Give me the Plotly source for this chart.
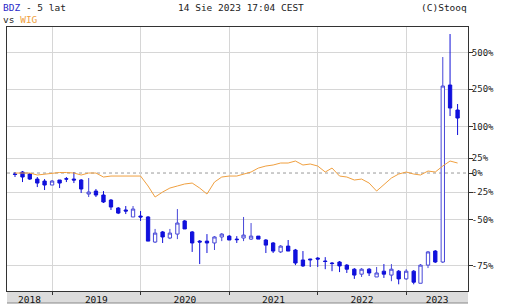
import plotly.graph_objects as go
import pandas as pd

# ---- data (values relative to start: 1.0 = 0%) ----
months = pd.date_range("2018-08-01", periods=61, freq="MS")

bdz_open = [0.985, 1.015, 0.985, 0.914, 0.887, 0.836, 0.901, 0.918, 0.914, 0.901, 0.731, 0.764,
            0.720, 0.668, 0.593, 0.576, 0.519, 0.526, 0.519, 0.357, 0.415, 0.379, 0.402, 0.489,
            0.415, 0.362, 0.362, 0.352, 0.385, 0.390, 0.373, 0.379, 0.373, 0.390, 0.368, 0.352,
            0.308, 0.336, 0.317, 0.273, 0.277, 0.281, 0.269, 0.261, 0.265, 0.253, 0.238, 0.221,
            0.238, 0.212, 0.231, 0.218, 0.231, 0.206, 0.231, 0.193, 0.253, 0.312, 0.265, 3.719,
            2.561]
bdz_high = [1.015, 1.030, 1.000, 0.942, 0.914, 0.901, 0.901, 0.942, 1.015, 0.914, 0.928, 0.788,
            0.764, 0.678, 0.602, 0.611, 0.611, 0.567, 0.526, 0.434, 0.421, 0.434, 0.584, 0.496,
            0.421, 0.368, 0.402, 0.390, 0.408, 0.396, 0.390, 0.519, 0.474, 0.390, 0.373, 0.357,
            0.341, 0.368, 0.322, 0.312, 0.278, 0.285, 0.285, 0.265, 0.269, 0.257, 0.242, 0.242,
            0.242, 0.246, 0.257, 0.257, 0.235, 0.238, 0.235, 0.257, 0.312, 0.317, 5.648, 7.961,
            2.801]
bdz_low = [0.942, 0.874, 0.901, 0.811, 0.776, 0.836, 0.799, 0.874, 0.861, 0.742, 0.699, 0.699,
           0.639, 0.576, 0.542, 0.542, 0.519, 0.489, 0.362, 0.352, 0.352, 0.373, 0.373, 0.434,
           0.308, 0.257, 0.303, 0.317, 0.362, 0.368, 0.352, 0.362, 0.368, 0.373, 0.303, 0.303,
           0.303, 0.312, 0.253, 0.246, 0.246, 0.246, 0.238, 0.231, 0.228, 0.225, 0.206, 0.212,
           0.215, 0.212, 0.209, 0.199, 0.190, 0.203, 0.190, 0.193, 0.242, 0.261, 0.261, 2.341,
           1.763]
bdz_close = [0.980, 0.942, 0.914, 0.861, 0.836, 0.887, 0.861, 0.914, 0.901, 0.788, 0.753, 0.720,
             0.649, 0.602, 0.550, 0.567, 0.584, 0.519, 0.362, 0.408, 0.385, 0.408, 0.474, 0.434,
             0.352, 0.357, 0.352, 0.385, 0.402, 0.368, 0.370, 0.396, 0.390, 0.373, 0.341, 0.312,
             0.336, 0.312, 0.261, 0.250, 0.274, 0.277, 0.267, 0.259, 0.250, 0.238, 0.218, 0.238,
             0.225, 0.225, 0.221, 0.238, 0.206, 0.231, 0.196, 0.253, 0.308, 0.265, 3.664, 2.638,
             2.272]
wig = [1.000, 1.000, 1.000, 0.971, 0.985, 1.000, 1.008, 1.008, 1.000, 0.971, 1.000, 1.000,
       0.942, 0.956, 0.956, 0.956, 0.956, 0.956, 0.824, 0.699, 0.753, 0.799, 0.824, 0.849,
       0.861, 0.799, 0.731, 0.874, 0.942, 0.956, 0.956, 0.985, 1.015, 1.077, 1.110, 1.127,
       1.161, 1.161, 1.196, 1.127, 1.144, 1.110, 1.015, 1.077, 0.956, 0.942, 0.901, 0.914,
       0.861, 0.764, 0.836, 0.928, 0.985, 1.015, 0.985, 0.971, 1.030, 1.015, 1.110, 1.196,
       1.161]

y_tickvals = [6.0, 3.5, 2.0, 1.25, 1.0, 0.75, 0.5, 0.25]
y_ticktext = ["500%", "250%", "100%", "25%", "0%", "-25%", "-50%", "-75%"]
year_labels = ["2018", "2019", "2020", "2021", "2022", "2023"]

x_start, x_end = pd.Timestamp("2018-06-29"), pd.Timestamp("2023-09-13")

# label positions: middle of each year's visible span
label_pos = []
for yl in year_labels:
    a = max(pd.Timestamp(f"{yl}-01-01"), x_start)
    b = min(pd.Timestamp(f"{int(yl)+1}-01-01"), x_end)
    label_pos.append(a + (b - a) / 2)

W, H = 512, 305
ML, MR, MT, MB = 7, 44, 27, 14
PW, PH = W - ML - MR, H - MT - MB


def px(x):
    return (x - ML) / PW


def py(y):
    return (H - MB - y) / PH


fig = go.Figure()
fig.add_trace(go.Scatter(x=months, y=wig, mode="lines",
                         line=dict(color="#f0a040", width=1), hoverinfo="skip"))
fig.add_trace(go.Candlestick(
    x=months, open=bdz_open, high=bdz_high, low=bdz_low, close=bdz_close,
    increasing=dict(line=dict(color="#4646d8", width=1), fillcolor="#ffffff"),
    decreasing=dict(line=dict(color="#1010d8", width=1), fillcolor="#1010e0"),
    whiskerwidth=0,
))

font_main = "DejaVu Sans Mono"
fig.update_layout(
    width=W, height=H,
    margin=dict(l=ML, r=MR, t=MT, b=MB, pad=0, autoexpand=False),
    paper_bgcolor="#ffffff", plot_bgcolor="#ffffff",
    showlegend=False,
    font=dict(family=font_main, size=9, color="#222222"),
    xaxis=dict(
        type="date", range=[x_start, x_end], automargin=False,
        rangeslider=dict(visible=False),
        tickmode="array", tickvals=label_pos, ticktext=year_labels,
        ticks="", showgrid=False, zeroline=False,
        showline=True, linecolor="#333333", linewidth=1, mirror=True,
        tickfont=dict(size=9.5, color="#111111", family=font_main),
        minor=dict(dtick="M12", tick0="2019-01-01", showgrid=True, gridcolor="#d6d6d6",
                   gridwidth=1, ticks="outside", ticklen=3, tickcolor="#333333"),
    ),
    yaxis=dict(
        type="log", side="right", automargin=False,
        range=[-0.7647, 0.9465],
        tickmode="array", tickvals=y_tickvals, ticktext=y_ticktext,
        ticks="outside", ticklen=4, tickcolor="#333333", ticklabelstandoff=-3,
        showgrid=False, zeroline=False,
        showline=True, linecolor="#333333", linewidth=1, mirror=True,
        tickfont=dict(size=9, color="#222222", family=font_main),
        minor=dict(tickmode="array", tickvals=[v for v in y_tickvals if v != 1.0],
                   showgrid=True, gridcolor="#d6d6d6", gridwidth=1, ticks=""),
    ),
    shapes=[
        dict(type="line", xref="paper", x0=0, x1=1, yref="y", y0=1.0, y1=1.0,
             line=dict(color="#999999", width=1, dash="3px,3px"), layer="below"),
        dict(type="rect", xref="paper", x0=0, x1=1, yref="paper", y0=py(303), y1=0,
             fillcolor="#dcdcdc", line=dict(width=0), layer="below"),
        dict(type="line", xref="paper", x0=0, x1=1, yref="paper", y0=py(303), y1=py(303),
             line=dict(color="#888888", width=1), layer="below"),
    ],
    annotations=[
        dict(text="<span style='color:#2a2ac8'>BDZ</span> - 5 lat", xref="paper", yref="paper",
             x=px(1), y=py(8), xanchor="left", yanchor="middle", showarrow=False,
             font=dict(size=9.5, family=font_main, color="#222222")),
        dict(text="vs <span style='color:#f0a040'>WIG</span>", xref="paper", yref="paper",
             x=px(1), y=py(20), xanchor="left", yanchor="middle", showarrow=False,
             font=dict(size=9.5, family=font_main, color="#222222")),
        dict(text="14 Sie 2023 17:04 CEST", xref="paper", yref="paper",
             x=px(241.5), y=py(8), xanchor="center", yanchor="middle", showarrow=False,
             font=dict(size=9.5, family=font_main, color="#222222")),
        dict(text="(C)Stooq", xref="paper", yref="paper",
             x=px(469), y=py(8), xanchor="right", yanchor="middle", showarrow=False,
             font=dict(size=9.5, family=font_main, color="#222222")),
    ],
)

fig.write_html("out.html")
